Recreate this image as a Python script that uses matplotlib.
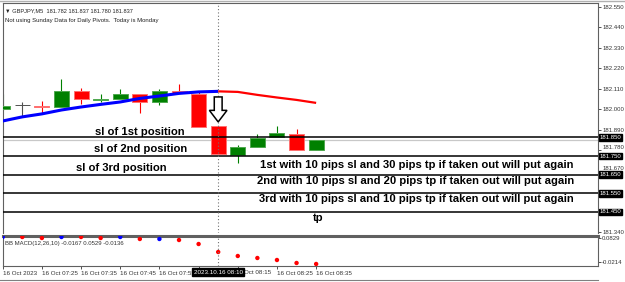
import matplotlib
matplotlib.use('Agg')
import matplotlib.pyplot as plt
from matplotlib.patches import Polygon
import matplotlib.transforms as mtransforms

plt.rcParams['font.family'] = ['Liberation Sans', 'DejaVu Sans']

# ---------------- data ----------------
symbol_header = "\u25bc GBPJPY,M5  181.782 181.837 181.780 181.837"
note_header = "Not using Sunday Data for Daily Pivots.  Today is Monday"

opens  = [182.003, 182.024, 182.019, 182.013, 182.099, 182.051, 182.056, 182.083, 182.040,
          182.099, 182.083, 181.911, 181.756, 181.799, 181.852, 181.869, 181.782]
highs  = [182.085, 182.040, 182.045, 182.164, 182.115, 182.083, 182.110, 182.083, 182.110,
          182.137, 182.099, 181.911, 181.810, 181.869, 181.911, 181.895, 181.837]
lows   = [181.998, 181.960, 181.981, 182.013, 182.029, 182.040, 182.056, 181.981, 182.024,
          182.088, 181.906, 181.761, 181.713, 181.799, 181.852, 181.783, 181.780]
closes = [182.019, 182.024, 182.011, 182.099, 182.056, 182.056, 182.083, 182.040, 182.099,
          182.088, 181.906, 181.761, 181.799, 181.847, 181.874, 181.783, 181.837]

ma_values = [181.938, 181.960, 181.976, 181.997, 182.013, 182.027, 182.040, 182.059, 182.072,
             182.086, 182.094, 182.097, 182.094, 182.078, 182.064, 182.051, 182.035]
ma_turn_index = 11

bid_price = 181.837
level_prices = [181.850, 181.750, 181.650, 181.550, 181.450]
level_labels = ["181.850", "181.750", "181.650", "181.550", "181.450"]
price_ticks = [182.550, 182.440, 182.330, 182.220, 182.110, 182.000, 181.890,
               181.780, 181.670, 181.560, 181.450, 181.340]

macd_label = "BB MACD(12,26,10) -0.0167 0.0529 -0.0136"
macd_values = [0.0872, 0.0872, 0.0829, 0.0872, 0.0872, 0.0829, 0.0872, 0.0786, 0.0786,
               0.0742, 0.0568, 0.0221, 0.0047, -0.0040, -0.0127, -0.0257, -0.0300]
macd_up = [True, False, False, True, False, False, True, False, True,
           False, False, False, False, False, False, False, False]
macd_ticks = [0.0829, -0.0214]

date_tick_idx = [0, 2, 4, 6, 8, 10, 12, 14, 16]
date_labels = ["16 Oct 2023", "16 Oct 07:25", "16 Oct 07:35", "16 Oct 07:45", "16 Oct 07:55",
               "16 Oct 08:05", "16 Oct 08:15", "16 Oct 08:25", "16 Oct 08:35"]
cursor_idx = 11
cursor_label = "2023.10.16 08:10"

annotations = [
    ("sl of 1st position", 7.0, 181.881),
    ("sl of 2nd position", 7.05, 181.788),
    ("sl of 3rd position", 6.05, 181.686),
    ("1st with 10 pips sl and 30 pips tp if taken out will put again", 21.15, 181.700),
    ("2nd with 10 pips sl and 20 pips tp if taken out will put again", 21.08, 181.616),
    ("3rd with 10 pips sl and 10 pips tp if taken out will put again", 21.1, 181.520),
    ("tp", 16.1, 181.418),
]

# ---------------- figure ----------------
W, H = 625, 282
fig = plt.figure(figsize=(W / 100, H / 100), dpi=100)
fig.patch.set_facecolor('white')

def rect(x0, y0, x1, y1):
    return [x0 / W, 1 - y1 / H, (x1 - x0) / W, (y1 - y0) / H]

ax = fig.add_axes(rect(2.7, 3, 598, 233))
axm = fig.add_axes(rect(2.7, 236, 598, 266), sharex=ax)

GREEN = '#008000'
RED = '#ff0000'
n = len(opens)
xs = list(range(n))
body_w = 0.765

for i in xs:
    o, h, l, c = opens[i], highs[i], lows[i], closes[i]
    if c > o:
        col, ec = GREEN, '#4fa84f'
    elif c < o:
        col, ec = RED, '#ff7070'
    else:
        col, ec = '#505050', '#505050'
    ax.vlines(i, l, h, color=col, lw=0.8, zorder=2)
    ax.bar(i, abs(c - o), bottom=min(o, c), width=body_w, color=col,
           edgecolor=ec, linewidth=0.7, zorder=3)

ax.plot(xs[:ma_turn_index + 1], ma_values[:ma_turn_index + 1], color='#0000ff', lw=2.2,
        zorder=4, solid_capstyle='butt')
ax.plot(xs[ma_turn_index:], ma_values[ma_turn_index:], color='#ff0000', lw=1.6,
        zorder=4, solid_capstyle='butt')

ax.axhline(bid_price, color='#c8c8c8', lw=0.9, zorder=1)
for p in level_prices:
    ax.axhline(p, color='black', lw=1.1, zorder=5)

ax.axvline(cursor_idx, color='#707070', lw=0.8, ls=(0, (1, 2)), zorder=6)
axm.axvline(cursor_idx, color='#707070', lw=0.8, ls=(0, (1, 2)), zorder=6)

# hollow down arrow above the cursor candle
a_top, a_bot, a_neck = 182.067, 181.933, 181.995
sw, hw = 0.2, 0.45
arrow = Polygon([(cursor_idx - sw, a_top), (cursor_idx + sw, a_top), (cursor_idx + sw, a_neck),
                 (cursor_idx + hw, a_neck), (cursor_idx, a_bot), (cursor_idx - hw, a_neck),
                 (cursor_idx - sw, a_neck)], closed=True, facecolor='white',
                edgecolor='black', lw=1.1, zorder=7)
ax.add_patch(arrow)

for txt, x, y in annotations:
    ax.text(x, y, txt, ha='center', va='center', fontsize=8.1, fontweight='bold',
            color='black', zorder=8)

ax.text(0.004, 0.968, symbol_header, transform=ax.transAxes, fontsize=4.1, va='center',
        ha='left', color='#222222')
ax.text(0.004, 0.925, note_header, transform=ax.transAxes, fontsize=4.3, va='center',
        ha='left', color='#222222')

x_left = (2.7 - 2.4) / 19.6
x_right = (598 - 2.4) / 19.6
ax.set_xlim(x_left, x_right)
ax.set_ylim(181.337, 182.571)

ax.yaxis.tick_right()
ax.set_yticks(price_ticks)
tick_texts = []
for p in price_ticks:
    covered = any(abs(p - lp) < 0.015 for lp in level_prices)
    tick_texts.append("" if covered else f"{p:.3f}")
ax.set_yticklabels(tick_texts)
ax.tick_params(axis='y', labelsize=4.3, length=2, pad=1, width=0.6, colors='#333333')
ax.tick_params(axis='x', bottom=False, labelbottom=False)
# labels squeezed by a highlighted level box sit just above their tick
for p, lab in zip(price_ticks, ax.get_yticklabels()):
    near = min(abs(p - lp) for lp in level_prices)
    if 0.015 <= near < 0.035:
        lab.set_va('bottom')

ytr = mtransforms.blended_transform_factory(ax.transAxes, ax.transData)
for p, lab in zip(level_prices, level_labels):
    ax.text(1.003, p, lab, transform=ytr, fontsize=4.3, color='white', va='center',
            ha='left', zorder=10, clip_on=False,
            bbox=dict(boxstyle='square,pad=0.15', fc='black', ec='black'))

for spine in ['top', 'left', 'right', 'bottom']:
    ax.spines[spine].set_color('#606060')
    ax.spines[spine].set_linewidth(0.8)
ax.spines['bottom'].set_visible(False)

# ---------------- MACD panel ----------------
dot_colors = ['#0000ff' if u else '#ff0000' for u in macd_up]
axm.scatter(xs, macd_values, s=10, c=dot_colors, zorder=3, linewidths=0)
axm.set_ylim(-0.0388, 0.0916)
axm.yaxis.tick_right()
axm.set_yticks(macd_ticks)
axm.set_yticklabels([f"{v:.4f}" for v in macd_ticks])
axm.tick_params(axis='y', labelsize=4.3, length=2, pad=1, width=0.6, colors='#333333')

xtr = mtransforms.blended_transform_factory(axm.transData, axm.transAxes)
shown_dates = []
for idx, lab in zip(date_tick_idx, date_labels):
    shown_dates.append("" if abs(idx - cursor_idx) <= 1 else lab)
axm.set_xticks(date_tick_idx)
axm.set_xticklabels(shown_dates, ha='left')
axm.tick_params(axis='x', labelsize=4.5, length=2, pad=1.5, width=0.6, colors='#333333')
for idx, lab in zip(date_tick_idx, date_labels):
    if idx == cursor_idx + 1:
        axm.text(idx + 0.33, -0.2, lab.split(' ', 1)[1], transform=xtr, fontsize=4.5,
                 color='#333333', ha='left', va='center', clip_on=False)

axm.text(0.004, 0.75, macd_label, transform=axm.transAxes, fontsize=4.3, va='center',
         ha='left', color='#333333')
for spine in ['left', 'right', 'bottom']:
    axm.spines[spine].set_color('#606060')
    axm.spines[spine].set_linewidth(0.8)
axm.spines['top'].set_color('#606060')
axm.spines['top'].set_linewidth(2.2)

axm.text(cursor_idx, -0.2, cursor_label, transform=xtr, fontsize=4.5, color='white',
         ha='center', va='center', zorder=10, clip_on=False,
         bbox=dict(boxstyle='square,pad=0.2', fc='black', ec='black'))

# frame lines
fig.add_artist(plt.Line2D([0, 598 / W], [1 - 280 / H, 1 - 280 / H], color='#808080', lw=0.8))
fig.add_artist(plt.Line2D([0, 1], [1 - 1 / H, 1 - 1 / H], color='#b0b0b0', lw=1.0))

fig.savefig('out.png', dpi=100)
